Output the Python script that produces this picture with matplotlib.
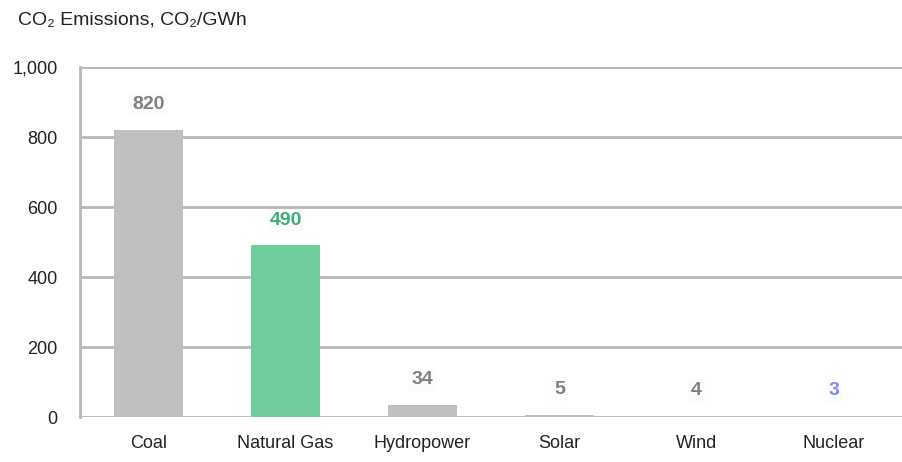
import matplotlib
matplotlib.use("Agg")
import matplotlib.pyplot as plt

plt.rcParams['font.family'] = ['Liberation Sans Narrow', 'Liberation Sans', 'DejaVu Sans']

sources = ['Coal', 'Natural Gas', 'Hydropower', 'Solar', 'Wind', 'Nuclear']
emissions = [820, 490, 34, 5, 4, 3]
bar_colors = ['#bfbfbf', '#6fcd9d', '#bfbfbf', '#bfbfbf', '#bfbfbf', '#bfbfbf']
label_colors = ['#808080', '#3daf74', '#808080', '#808080', '#808080', '#8585f5']
yticks = [0, 200, 400, 600, 800, 1000]

fig = plt.figure(figsize=(9.02, 4.62), dpi=100)
ax = fig.add_axes([80 / 902, 1 - 417 / 462, 1 - 80 / 902, 350 / 462])

x = range(len(sources))
ax.bar(x, emissions, width=0.5, color=bar_colors, zorder=3)

for i, v in enumerate(emissions):
    ax.text(i, v + 48, str(v), ha='center', va='bottom', fontsize=14,
            fontweight='bold', color=label_colors[i], zorder=4,
            bbox=dict(facecolor='#fcfcfc', edgecolor='none', pad=2))

ax.set_xlim(-0.5, len(sources) - 0.5)
ax.set_ylim(0, 1000)
ax.set_yticks(yticks)
ax.set_yticklabels([f'{t:,}' for t in yticks])
ax.set_xticks(list(x))
ax.set_xticklabels(sources)
ax.tick_params(axis='both', length=0, labelsize=13, colors='#222222')
ax.tick_params(axis='x', pad=13)
ax.tick_params(axis='y', pad=16)

ax.grid(axis='y', color='#b8b8b8', linewidth=2, zorder=0)
for s in ['top', 'right', 'bottom']:
    ax.spines[s].set_visible(False)
ax.spines['left'].set_color('#b8b8b8')
ax.spines['left'].set_linewidth(2)

fig.text(18 / 902, 1 - 20 / 462, 'CO₂ Emissions, CO₂/GWh', fontsize=14,
         color='#222222', ha='left', va='center')

fig.savefig('out.png', dpi=100)
